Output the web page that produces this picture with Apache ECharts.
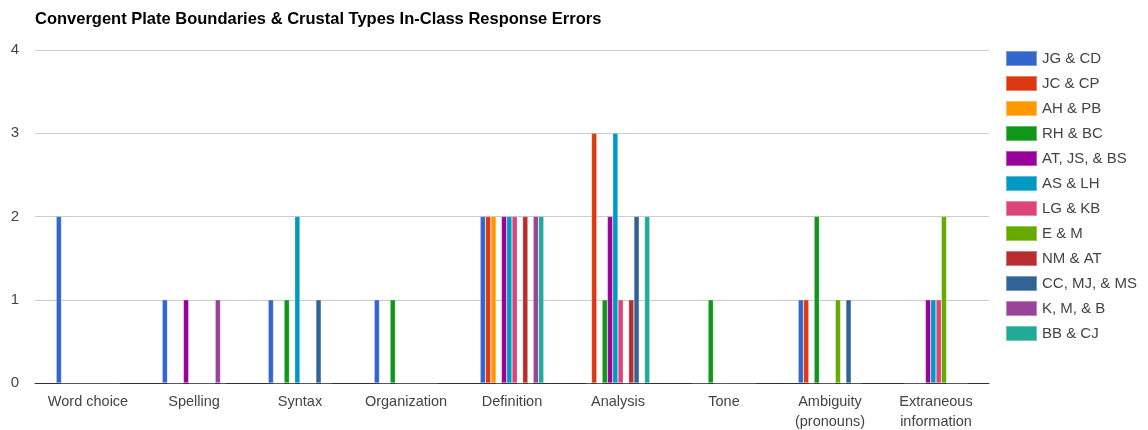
<!DOCTYPE html>
<html>
<head>
<meta charset="utf-8">
<script src="https://cdn.jsdelivr.net/npm/echarts@6/dist/echarts.min.js"></script>
<style>
html,body{margin:0;padding:0;background:#fff;}
#chart{width:1148px;height:430px;}
</style>
</head>
<body>
<div id="chart"></div>
<script>
const titleText = "Convergent Plate Boundaries & Crustal Types In-Class Response Errors";
const categories = ["Word choice", "Spelling", "Syntax", "Organization", "Definition", "Analysis", "Tone", "Ambiguity\n(pronouns)", "Extraneous\ninformation"];
const seriesNames = ["JG & CD", "JC & CP", "AH & PB", "RH & BC", "AT, JS, & BS", "AS & LH", "LG & KB", "E & M", "NM & AT", "CC, MJ, & MS", "K, M, & B", "BB & CJ"];
const colors = ["#3366cc", "#dc3912", "#ff9900", "#109618", "#990099", "#0099c6", "#dd4477", "#66aa00", "#b82e2e", "#316395", "#994499", "#22aa99"];
const yTicks = [0, 1, 2, 3, 4];

const jgCd    = [2, 1, 1, 1, 2, 0, 0, 1, 0];
const jcCp    = [0, 0, 0, 0, 2, 3, 0, 1, 0];
const ahPb    = [0, 0, 0, 0, 2, 0, 0, 0, 0];
const rhBc    = [0, 0, 1, 1, 0, 1, 1, 2, 0];
const atJsBs  = [0, 1, 0, 0, 2, 2, 0, 0, 1];
const asLh    = [0, 0, 2, 0, 2, 3, 0, 0, 1];
const lgKb    = [0, 0, 0, 0, 2, 1, 0, 0, 1];
const eM      = [0, 0, 0, 0, 0, 0, 0, 1, 2];
const nmAt    = [0, 0, 0, 0, 2, 1, 0, 0, 0];
const ccMjMs  = [0, 0, 1, 0, 0, 2, 0, 1, 0];
const kMB     = [0, 1, 0, 0, 2, 0, 0, 0, 0];
const bbCj    = [0, 0, 0, 0, 2, 2, 0, 0, 0];

const seriesValues = [jgCd, jcCp, ahPb, rhBc, atJsBs, asLh, lgKb, eM, nmAt, ccMjMs, kMB, bbCj];

const chart = echarts.init(document.getElementById('chart'), null, {renderer: 'canvas'});
const font = 'Arial, "Liberation Sans", sans-serif';
chart.setOption({
  animation: false,
  color: colors,
  textStyle: {fontFamily: font},
  title: {
    text: titleText,
    left: 30, top: 6,
    textStyle: {fontSize: 16.5, fontWeight: 'bold', color: '#000', fontFamily: font}
  },
  legend: {
    orient: 'vertical',
    left: 1005, top: 50,
    padding: 0,
    itemWidth: 31, itemHeight: 15, itemGap: 8,
    icon: 'rect',
    data: seriesNames,
    textStyle: {fontSize: 15, color: '#444', fontFamily: font}
  },
  grid: {left: 35, right: 159, top: 50, bottom: 47, containLabel: false, outerBoundsMode: 'none'},
  xAxis: {
    type: 'category',
    data: categories,
    axisTick: {show: false},
    axisLine: {lineStyle: {color: '#333', width: 1}},
    axisLabel: {fontSize: 14.5, color: '#444', margin: 9, lineHeight: 20, interval: 0, fontFamily: font}
  },
  yAxis: {
    type: 'value',
    min: yTicks[0], max: yTicks[yTicks.length - 1], interval: 1,
    axisLine: {show: false},
    axisTick: {show: false},
    splitLine: {lineStyle: {color: '#ccc'}},
    axisLabel: {fontSize: 15, color: '#444', margin: 16, fontFamily: font}
  },
  series: seriesNames.map((n, i) => ({
    name: n,
    type: 'bar',
    data: seriesValues[i],
    barGap: '0%',
    barCategoryGap: '40%',
    itemStyle: {color: colors[i], borderColor: 'rgba(255,255,255,0.35)', borderWidth: 0.6}
  }))
});
</script>
</body>
</html>
